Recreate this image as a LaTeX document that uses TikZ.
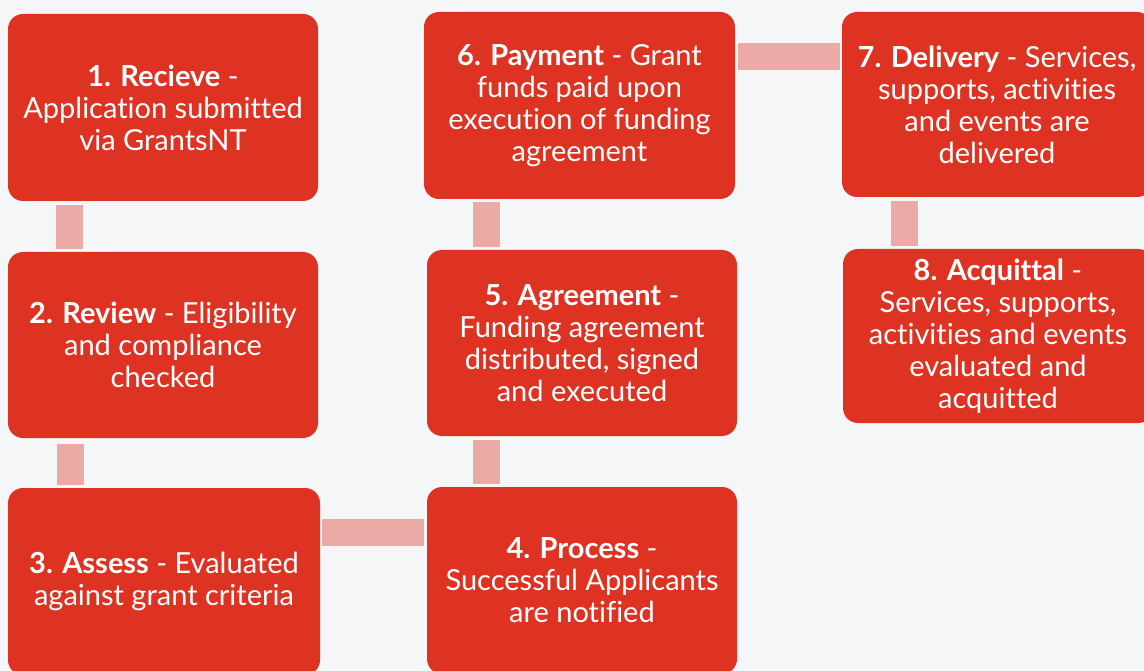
\documentclass[tikz,border=0pt]{standalone}
\usepackage{fontspec}
\setmainfont{Lato}[RawFeature=-liga]
\definecolor{boxred}{RGB}{222,50,34}
\definecolor{connpink}{RGB}{236,170,166}
\definecolor{bgpaper}{RGB}{245,246,248}
\tikzset{
  stepbox/.style n args={2}{rectangle, rounded corners=15pt, fill=boxred, text=white,
    minimum width=#1pt, minimum height=#2pt, inner sep=0pt, align=center,
    font=\fontsize{29}{32}\selectfont},
  conn/.style={draw=connpink, line width=27pt, line cap=butt}
}
\begin{document}
\begin{tikzpicture}[x=1pt, y={(0pt,-1pt)}]
\useasboundingbox (0,0) rectangle (1144,671);
\fill[bgpaper] (0,0) rectangle (1144,671);
\clip (0,0) rectangle (1144,671);
\node[stepbox={310}{187}] (b1) at (163,107.5) {\textbf{1. Recieve} -\\Application submitted\\via GrantsNT};
\node[stepbox={310}{186}] (b2) at (163,345) {\textbf{2. Review} - Eligibility\\and compliance\\checked};
\node[stepbox={312}{187}] (b3) at (164,581.5) {\textbf{3. Assess} - Evaluated\\against grant criteria};
\node[stepbox={310}{187}] (b4) at (582,580.5) {\textbf{4. Process} -\\Successful Applicants\\are notified};
\node[stepbox={310}{186}] (b5) at (582,343) {\textbf{5. Agreement} -\\Funding agreement\\distributed, signed\\and executed};
\node[stepbox={311}{187}] (b6) at (579.5,105.5) {\textbf{6. Payment} - Grant\\funds paid upon\\execution of funding\\agreement};
\node[stepbox={310}{185}] (b7) at (997,104.5) {\textbf{7. Delivery} - Services,\\supports, activities\\and events are\\delivered};
\node[stepbox={310}{174}] (b8) at (998,336) {\textbf{8. Acquittal} -\\Services, supports,\\activities and events\\evaluated and\\acquitted};
\draw[conn] ([shift={(62,4)}]b1.south west) -- ([shift={(62,-3)}]b2.north west);
\draw[conn] ([shift={(63,6)}]b2.south west) -- ([shift={(63,-3)}]b3.north west);
\draw[conn] ([shift={(2,45)}]b3.north east) -- ([shift={(-3,46)}]b4.north west);
\draw[conn] ([shift={(60,-3)}]b4.north west) -- ([shift={(60,4)}]b5.south west);
\draw[conn] ([shift={(60,-3)}]b5.north west) -- ([shift={(63,3)}]b6.south west);
\draw[conn] ([shift={(3,45)}]b6.north east) -- ([shift={(-2,45)}]b7.north west);
\draw[conn] ([shift={(63,4)}]b7.south west) -- ([shift={(62,-3)}]b8.north west);
\end{tikzpicture}
\end{document}
